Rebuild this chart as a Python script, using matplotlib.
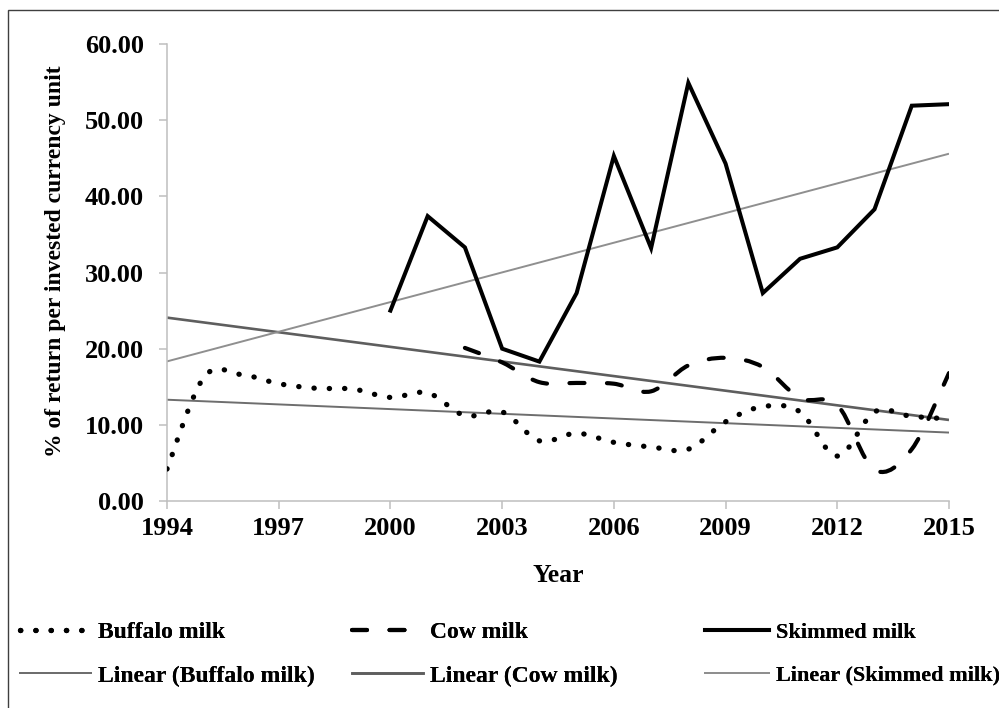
import numpy as np
import matplotlib
matplotlib.use("Agg")
import matplotlib.pyplot as plt
from matplotlib.path import Path
from matplotlib.patches import PathPatch, Rectangle
from matplotlib.lines import Line2D

# ---------------- data ----------------
years_buffalo = list(range(1994, 2016))
buffalo = [4.2, 16.3, 16.6, 15.4, 14.8, 14.7, 13.6, 14.2, 11.2, 11.7, 7.9,
           8.9, 7.7, 7.1, 6.8, 10.4, 12.4, 11.7, 5.9, 11.7, 11.1, 10.8]

years_cow = list(range(2002, 2016))
cow = [20.1, 18.2, 15.6, 15.5, 15.4, 14.4, 17.8, 18.8, 17.6, 13.5, 12.6, 4.1, 6.8, 16.8]

years_skim = list(range(2000, 2016))
skimmed = [25.0, 37.4, 33.3, 20.0, 18.3, 27.3, 45.3, 33.2, 54.9, 44.3, 27.3,
           31.8, 33.3, 38.3, 51.9, 52.1]

x_ticks = list(range(1994, 2016, 3))
y_ticks = [0, 10, 20, 30, 40, 50, 60]
series_labels = ["Buffalo milk", "Cow milk", "Skimmed milk"]
trend_labels = ["Linear (Buffalo milk)", "Linear (Cow milk)", "Linear (Skimmed milk)"]

# ---------------- style ----------------
plt.rcParams['font.family'] = ['Liberation Serif', 'DejaVu Serif']
plt.rcParams['font.weight'] = 'bold'

W, H = 999, 708
fig = plt.figure(figsize=(W / 100, H / 100), dpi=100)
ax = fig.add_axes([167 / W, 1 - 501 / H, (949 - 167) / W, (501 - 44) / H])


def smooth_path(x, y):
    pts = np.column_stack([np.asarray(x, float), np.asarray(y, float)])
    n = len(pts)
    verts = [pts[0]]
    codes = [Path.MOVETO]
    for i in range(n - 1):
        p0 = pts[i - 1] if i > 0 else pts[i]
        p1 = pts[i]
        p2 = pts[i + 1]
        p3 = pts[i + 2] if i + 2 < n else pts[i + 1]
        c1 = p1 + (p2 - p0) / 6.0
        c2 = p2 - (p3 - p1) / 6.0
        verts += [c1, c2, p2]
        codes += [Path.CURVE4] * 3
    return Path(verts, codes)


# trend lines (least squares, spanning whole category axis)
xr = np.array([1994, 2015], float)
trend_specs = [
    (years_buffalo, buffalo, '#6e6e6e', 1.4),
    (years_cow, cow, '#5e5e5e', 1.9),
    (years_skim, skimmed, '#8f8f8f', 1.4),
]
for xs, ys, col, lw in trend_specs:
    k, b = np.polyfit(xs, ys, 1)
    ax.plot(xr, k * xr + b, color=col, lw=lw, zorder=2, solid_capstyle='butt')

# buffalo: smoothed dotted
ax.add_patch(PathPatch(smooth_path(years_buffalo, buffalo), fill=False, ec='black',
                       capstyle='round', zorder=3, lw=3.8, ls=(0, (0.05, 2.85))))
# cow: smoothed dashed
ax.add_patch(PathPatch(smooth_path(years_cow, cow), fill=False, ec='black',
                       capstyle='round', zorder=3, lw=3.0, ls=(0, (3.6, 5.4))))
# skimmed: straight solid
ax.plot(years_skim, skimmed, color='black', lw=2.9, zorder=4, solid_joinstyle='miter')

ax.set_xlim(1994, 2015)
ax.set_ylim(0, 60)
ax.set_xticks(x_ticks)
ax.set_yticks(y_ticks)
ax.set_yticklabels([f"{v:.2f}" for v in y_ticks])
for s in ['top', 'right']:
    ax.spines[s].set_visible(False)
for s in ['left', 'bottom']:
    ax.spines[s].set_color('#bfbfbf')
    ax.spines[s].set_linewidth(1.1)
ax.tick_params(axis='both', direction='out', length=5.5, width=1.1, color='#bfbfbf',
               labelsize=19, labelcolor='black')
ax.tick_params(axis='y', pad=11)
ax.tick_params(axis='x', pad=6)
for lab in ax.get_xticklabels() + ax.get_yticklabels():
    lab.set_fontweight('bold')

fig.text(56 / W, 1 - 261 / H, "% of return per invested currency unit", rotation=90,
         ha='center', va='center', fontsize=17, fontweight='bold')
fig.text(558 / W, 1 - 575 / H, "Year", ha='center', va='center', fontsize=18.5,
         fontweight='bold')

# chart-area border
fig.add_artist(Rectangle((8 / W, -0.2), 1.2, (1 - 10 / H) + 0.2, transform=fig.transFigure,
                         fill=False, ec='#3f3f3f', lw=1.0))

# legends, one per column
handles_series = [
    Line2D([], [], color='black', lw=3.8, ls=(0, (0.05, 2.85)), dash_capstyle='round'),
    Line2D([], [], color='black', lw=3.0, ls=(0, (3.6, 5.4)), dash_capstyle='round'),
    Line2D([], [], color='black', lw=2.9),
]
handles_trend = [Line2D([], [], color=c, lw=lw) for _, _, c, lw in trend_specs]
col_x = [20, 352, 705]
col_fs = [17, 17, 16]
col_hl = [3.0, 3.0, 2.9]
for i in range(3):
    leg = fig.legend([handles_series[i], handles_trend[i]],
                     [series_labels[i], trend_labels[i]],
                     loc='center left', bbox_to_anchor=(col_x[i] / W, 1 - 654 / H),
                     frameon=False, borderpad=0, borderaxespad=0,
                     handlelength=col_hl[i], handletextpad=0.3,
                     labelspacing=0.95 * 17 / col_fs[i],
                     prop={'family': 'Liberation Serif', 'weight': 'bold', 'size': col_fs[i]})
    fig.add_artist(leg)

fig.savefig("out.png", dpi=100)
